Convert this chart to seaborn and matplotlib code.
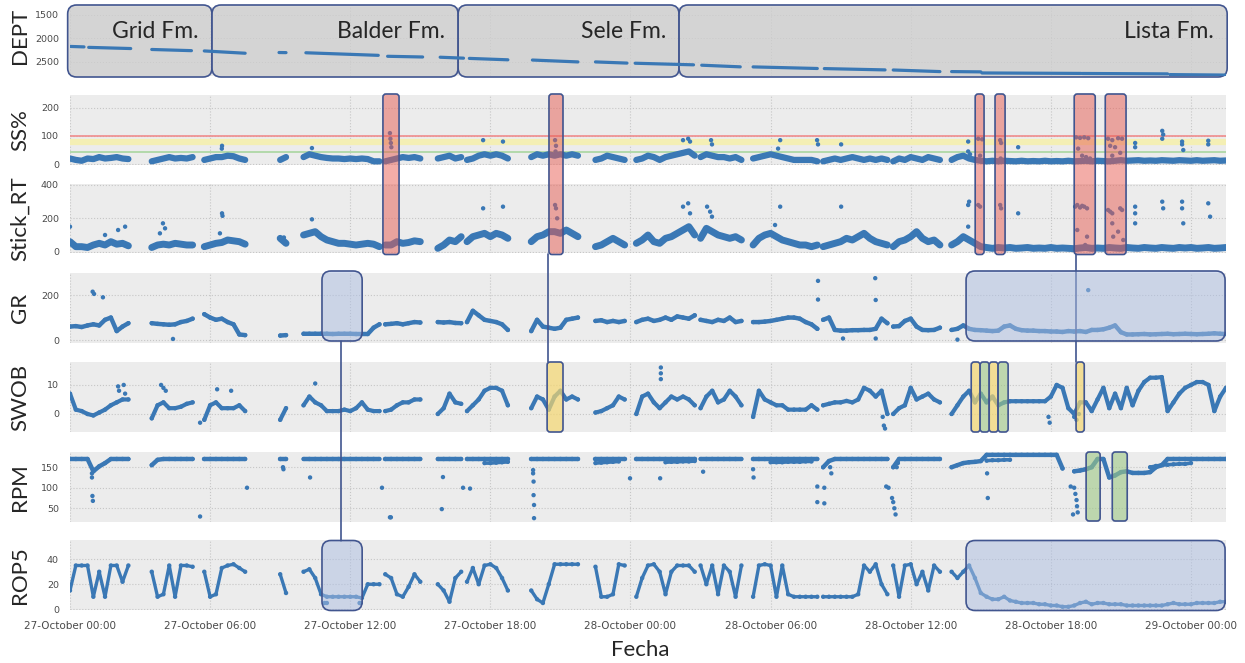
import pandas as pd
import matplotlib
matplotlib.use("Agg")
import matplotlib.pyplot as plt
from matplotlib.patches import FancyBboxPatch
from matplotlib.lines import Line2D
from matplotlib.colors import to_rgba
import seaborn as sns

# ---------------------------------------------------------------- data
BASE = pd.Timestamp("2019-10-27 00:00")
STEP = 0.25  # hours between logged samples inside a drilling run

# start hour of each continuous logging run
seg_start = [0.0, 3.5, 5.75, 9.0, 10.0, 13.5, 15.75, 17.0, 19.75, 22.5,
             24.25, 27.0, 29.25, 32.25, 35.25, 37.75]

# bit depth runs: (start hour, end hour, depth at start, depth at end)
dept_runs = [(0.0, 0.6, 2170, 2180), (0.8, 2.6, 2190, 2215), (3.5, 5.2, 2235, 2260),
             (5.75, 7.5, 2266, 2315), (8.95, 9.25, 2300, 2302), (10.1, 13.2, 2305, 2360),
             (13.6, 15.1, 2380, 2395), (15.85, 16.85, 2400, 2420), (17.1, 18.75, 2425, 2455),
             (19.8, 21.75, 2460, 2500), (22.5, 23.85, 2500, 2525), (24.2, 26.7, 2528, 2562),
             (27.05, 28.7, 2570, 2605), (29.25, 32.0, 2606, 2640), (32.3, 34.9, 2642, 2670),
             (35.25, 37.25, 2672, 2706), (37.75, 39.0, 2706, 2712), (39.05, 43.3, 2735, 2745),
             (43.35, 47.0, 2746, 2755), (47.1, 49.5, 2770, 2780)]

ss_pct = [
    [20, 15, 12, 20, 18, 25, 20, 22, 25, 20, 18],
    [10, 15, 20, 25, 20, 22, 20, 25],
    [15, 20, 25, 25, 30, 28, 20, 15],
    [15, 25],
    [25, 35, 30, 25, 22, 20, 20, 18, 20, 18, 20, 18, 10, 10],
    [10, 15, 20, 25, 22, 25, 20],
    [20, 25, 30, 20, 25],
    [15, 20, 30, 35, 30, 35, 30, 20],
    [25, 35, 30, 35, 30, 35, 30, 35, 30],
    [15, 20, 30, 25, 20, 15],
    [15, 20, 30, 25, 15, 25, 30, 35, 40, 45, 30],
    [25, 35, 30, 25, 25, 20, 25, 15],
    [20, 25, 30, 35, 30, 25, 20, 15, 15, 15, 15, 10],
    [10, 15, 20, 15, 20, 25, 20, 15, 20, 15, 20, 15],
    [10, 20, 15, 25, 20, 15, 25, 20, 15],
    [15, 25, 30, 20, 15, 12, 10, 12, 10, 12, 11, 10, 12, 10, 11, 10, 12, 10, 11, 10,
     12, 10, 11, 12, 10, 12, 11, 10, 12, 14, 12, 13, 14, 12, 13, 12, 14, 13, 12, 14,
     13, 12, 14, 12, 13, 14, 12, 13],
]
ss_spike_h = [6.51, 6.5, 10.36, 13.70, 13.72, 13.74, 13.76, 17.69, 18.54, 20.77, 20.81,
              20.79, 26.25, 26.47, 26.55, 27.45, 27.49, 30.32, 30.41, 31.99, 32.03, 33.02,
              38.46, 38.46, 38.54, 38.89, 39.06, 38.97, 39.83, 39.87, 39.85, 40.6, 43.08,
              43.25, 43.43, 43.6, 43.17, 43.34, 43.51, 43.68, 44.45, 44.63, 44.88, 45.05,
              44.54, 44.75, 44.97, 44.63, 45.61, 45.61, 46.77, 46.81, 46.77, 47.62, 47.62,
              47.67, 48.74, 48.74]
ss_spike_v = [65, 55, 57, 110, 90, 75, 60, 85, 80, 85, 65,
              45, 85, 90, 80, 85, 70, 55, 85, 85, 70, 70,
              80, 45, 35, 90, 88, 30, 85, 75, 20, 60, 95,
              93, 95, 92, 55, 30, 25, 20, 90, 85, 92, 90,
              65, 60, 40, 30, 75, 60, 118, 105, 90, 70, 80,
              50, 83, 70]

stick_rt = [
    [60, 30, 30, 25, 40, 50, 40, 60, 45, 50, 35],
    [25, 40, 45, 40, 50, 45, 40, 40],
    [30, 40, 50, 55, 70, 65, 60, 45],
    [80, 50],
    [100, 110, 120, 90, 70, 60, 50, 50, 45, 40, 45, 50, 45, 30],
    [40, 40, 60, 50, 55, 65, 60],
    [20, 40, 70, 60, 90],
    [60, 90, 100, 110, 90, 110, 100, 80],
    [60, 90, 100, 120, 120, 110, 130, 110, 90],
    [30, 40, 60, 80, 60, 40],
    [50, 70, 100, 60, 50, 80, 90, 110, 130, 150, 100],
    [80, 140, 120, 100, 90, 80, 90, 70],
    [40, 80, 100, 110, 90, 70, 60, 50, 40, 40, 30, 40],
    [30, 40, 50, 60, 80, 70, 90, 110, 80, 60, 50, 40],
    [30, 60, 70, 90, 120, 80, 60, 70, 40],
    [40, 60, 90, 70, 50, 30, 25, 20, 25, 22, 25, 20, 22, 25, 20, 22, 20, 25, 20, 22,
     20, 18, 22, 25, 20, 22, 20, 25, 22, 20, 25, 22, 20, 25, 22, 20, 25, 22, 20, 25,
     22, 25, 20, 22, 25, 20, 22, 25],
]
stick_spike_h = [0.0, 2.06, 2.36, 1.5, 3.85, 3.98, 4.07, 6.42, 6.51, 6.53, 9.16, 9.2,
                 10.36, 17.69, 18.54, 20.77, 20.81, 20.86, 26.25, 26.47, 26.55, 27.28,
                 27.41, 27.49, 30.19, 30.41, 33.02, 38.46, 38.5, 38.46, 38.89, 38.97,
                 39.83, 39.87, 40.6, 43.04, 43.13, 43.25, 43.34, 43.43, 43.55, 43.13,
                 43.55, 43.47, 43.6, 44.45, 44.54, 44.63, 44.97, 45.05, 44.63, 44.67,
                 44.88, 45.1, 45.61, 45.61, 45.61, 46.77, 46.81, 47.62, 47.62, 47.67,
                 48.74, 48.82]
stick_spike_v = [150, 130, 150, 100, 110, 170, 140, 110, 230, 215, 85, 60,
                 194, 260, 270, 280, 260, 200, 270, 290, 230, 270,
                 240, 210, 160, 270, 270, 280, 300, 150, 280, 270,
                 280, 260, 230, 270, 280, 265, 275, 270, 260, 130,
                 90, 40, 20, 250, 240, 230, 260, 250, 170, 90,
                 120, 70, 270, 230, 170, 300, 260, 300, 260, 170,
                 290, 210]

gr_api = [
    [60, 62, 58, 65, 70, 65, 90, 100, 40, 60, 75],
    [75, 72, 70, 68, 70, 80, 85, 95],
    [115, 100, 90, 95, 80, 70, 25, 22],
    [20, 22],
    [28, 28, 28, 28, 28, 27, 28, 28, 28, 27, 27, 27, 55, 70],
    [70, 72, 75, 70, 75, 80, 78],
    [80, 78, 80, 76, 75],
    [80, 130, 110, 90, 85, 80, 70, 45],
    [40, 90, 60, 55, 50, 55, 90, 95, 100],
    [85, 88, 80, 85, 80, 85],
    [80, 90, 95, 85, 90, 100, 90, 105, 100, 95, 110],
    [90, 85, 80, 90, 85, 100, 80, 85],
    [80, 80, 82, 85, 90, 95, 100, 100, 95, 80, 70, 50],
    [90, 100, 45, 42, 42, 44, 44, 45, 45, 50, 95, 75],
    [60, 62, 85, 95, 60, 45, 44, 45, 55],
    [45, 50, 65, 50, 45, 44, 42, 40, 42, 60, 65, 50, 44, 42, 42, 40, 40, 38, 38, 36,
     40, 38, 40, 36, 45, 45, 48, 55, 65, 35, 25, 25, 26, 27, 25, 26, 27, 28, 26, 27,
     28, 27, 26, 27, 28, 30, 28, 27],
]
gr_spike_h = [0.97, 1.03, 1.41, 4.41, 32.03, 32.03, 34.48, 34.5, 43.6, 33.1, 34.5, 38.0]
gr_spike_v = [215, 205, 190, 5, 263, 180, 275, 178, 222, 7, 7, 2]

swob = [
    [7, 1.5, 1, 0, -0.5, 0.5, 1.5, 3, 4, 5, 5],
    [-1.5, 3, 4, 2, 2, 2.5, 3.5, 4],
    [-2, 3, 4, 2, 2, 2, 3, 1],
    [-2, 2],
    [3, 6, 4, 3, 1, 1, 1, 1.5, 1, 2, 4, 1.5, 1, 1],
    [1, 1.5, 3, 4, 4, 5, 5],
    [0, 2, 7, 4, 3.5],
    [1, 3, 5, 8, 9, 9, 8, 3],
    [2, 6, 5, 1.5, 6, 8, 5, 6, 5],
    [0.5, 1, 2, 3, 6, 5],
    [0, 6, 7, 4, 2, 4, 6, 5, 6, 5, 3],
    [2, 6, 8, 4, 5, 8, 6, 3],
    [-1, 8, 5, 4, 3, 3, 1.5, 1.5, 1.5, 1.5, 3, 1.5],
    [3, 3.5, 4, 4, 4.5, 4, 5, 9, 8, 6, 8, 0],
    [0, 2, 3, 9, 5, 6, 7, 5, 4],
    [0, 3, 6, 8, 4, 7, 4, 6, 3, 4, 4.4, 4.4, 4.4, 4.4, 4.4, 4.4, 4.4, 6, 10, 9,
     2, 0, 4, 4, 1, 5, 9, 2, 7, 2, 9, 3, 8, 11, 12.5, 12.5, 12.7, 1, 4, 7,
     9, 10, 11, 11, 10, 1, 6, 9],
]
swob_spike_h = [2.06, 2.1, 2.3, 2.36, 3.9, 4.0, 4.1, 5.57, 6.3, 6.9, 10.5, 25.3, 25.3,
                25.3, 34.8, 34.85, 34.9, 41.9, 41.95, 43.0, 43.1, 43.2]
swob_spike_v = [9.5, 8, 10, 7, 10, 9, 8, -3, 8.5, 8, 10.5, 16, 14,
                12, -1, -4, -5, -1, -3, -1, -2, 0]

rpm = [
    [170, 170, 170, 170, 140, 152, 160, 170, 170, 170, 170],
    [155, 168, 170, 170, 170, 170, 170, 170],
    [170, 170, 170, 170, 170, 170, 170, 170],
    [170, 170],
    [170, 170, 170, 170, 170, 170, 170, 170, 170, 170, 170, 170, 170, 170],
    [170, 170, 170, 170, 170, 170, 170],
    [170, 170, 170, 170, 170],
    [170, 170, 170, 170, 170, 170, 170, 170],
    [170, 170, 170, 170, 170, 170, 170, 170, 170],
    [170, 170, 170, 170, 170, 170],
    [170, 170, 170, 170, 170, 170, 170, 170, 170, 170, 170],
    [170, 170, 170, 170, 170, 170, 170, 170],
    [170, 170, 170, 170, 170, 170, 170, 170, 170, 170, 170, 170],
    [150, 165, 170, 170, 170, 170, 170, 170, 170, 170, 170, 170],
    [150, 170, 170, 170, 170, 170, 170, 170, 170],
    [150, 155, 160, 162, 163, 165, 180, 180, 180, 180, 180, 180, 180, 180, 180, 180,
     180, 180, 180, 147, None, 140, 142, 145, 150, 170, 170, 125, 130, 138, 140, 136,
     136, 136, 138, 150, 155, 170, 170, 170, 170, 170, 170, 170, 170, 170, 170, 170],
]
# second rotary-speed level logged alongside the main one
rpm_alt_start = [17.75, 22.5, 25.5, 30.0, 39.25, 46.25]
rpm_alt = [
    [160, 160, 161, 162, 163],
    [160, 161, 162, 163, 164],
    [162, 163, 163, 164, 164, 165],
    [162, 162, 162, 163, 163, 163, 164, 164],
    [166, 167, 167, 168, 168],
    [150, 153, 155, 156, 157, 158, 158, 160],
]
rpm_spike_h = [0.94, 0.94, 0.96, 0.98, 5.57, 7.58, 9.12, 9.14, 10.28, 13.36, 13.70, 13.74,
               15.92, 15.97, 16.83, 17.13, 19.83, 19.83, 19.85, 19.85, 19.87, 19.87,
               23.98, 25.27, 27.11, 29.25, 29.27, 32.0, 32.3, 32.0, 32.3, 32.55, 32.6,
               34.95, 35.05, 35.2, 35.25, 35.3, 35.35, 35.4, 35.45, 39.27, 39.3,
               42.85, 43.0, 43.05, 43.1, 43.12, 43.15, 42.95]
rpm_spike_v = [135, 125, 80, 68, 30, 100, 150, 145, 125, 100, 28, 28,
               48, 126, 100, 98, 143, 135, 115, 82, 58, 26,
               123, 123, 139, 145, 125, 103, 100, 65, 62, 150, 135,
               103, 100, 75, 65, 50, 35, 150, 160, 135, 75,
               103, 100, 85, 70, 55, 40, 35]

rop5 = [
    [15, 35, 35, 35, 10, 30, 10, 35, 35, 22, 35],
    [30, 10, 12, 35, 10, 35, 35, 34],
    [30, 10, 12, 33, 35, 36, 33, 30],
    [28, 13],
    [30, 32, 25, 12, 10, 10, 10, 10, 10, 10, 9, 20, 20, 20],
    [28, 25, 12, 10, 18, 28, 22],
    [20, 15, 6, 25, 30],
    [22, 33, 20, 35, 36, 33, 25, 15],
    [15, 8, 5, 20, 36, 36, 36, 36, 36],
    [34, 10, 10, 12, 36, 35],
    [10, 25, 35, 36, 30, 12, 30, 35, 35, 35, 30],
    [35, 20, 35, 12, 35, 30, 10, 35],
    [10, 35, 36, 35, 10, 35, 12, 10, 10, 10, 10, 10],
    [10, 10, 10, 10, 10, 10, 12, 35, 30, 36, 20, 12],
    [35, 10, 35, 36, 20, 30, 15, 35, 30],
    [30, 25, 30, 35, 25, 13, 10, 8, 8, 10, 7, 6, 5, 5, 5, 4, 4, 3, 3, 2,
     2, 3, 5, 6, 4, 5, 5, 4, 4, 4, 3, 3, 3, 3, 3, 3, 3, 4, 5, 4,
     4, 4, 5, 5, 5, 5, 6, 6],
]
rop5_spike_h = [10.9, 11.0, 12.4, 12.45]
rop5_spike_v = [5, 5, 5, 5]

formation_names = ["Grid Fm.", "Balder Fm.", "Sele Fm.", "Lista Fm."]
formation_bounds_h = [-0.1, 6.08, 16.62, 26.08, 49.55]

# highlighted time windows (hours)
stick_windows = [(13.40, 14.09), (20.51, 21.11), (38.76, 39.14), (39.61, 40.04),
                 (43.0, 43.9), (44.33, 45.22)]
gr_rop_windows = [(10.79, 12.51), (38.37, 49.46)]
swob_windows = [(20.43, 21.11, "y"), (38.59, 38.97, "y"), (38.97, 39.36, "g"),
                (39.36, 39.74, "y"), (39.74, 40.17, "g"), (43.08, 43.43, "y")]
rpm_windows = [(43.51, 44.11), (44.63, 45.27)]
links_h = [11.61, 20.47, 43.08]

tick_hours = [0, 6, 12, 18, 24, 30, 36, 42, 48]

# ---------------------------------------------------------------- style
sns.set_theme(style="darkgrid", rc={
    "axes.facecolor": "#ececec",
    "grid.color": "#c6c6c6",
    "grid.linestyle": ":",
    "grid.linewidth": 0.8,
    "xtick.color": "#4a4a4a",
    "ytick.color": "#4a4a4a",
})
plt.rcParams["font.family"] = ["DejaVu Sans"]

BLUE = "#3a78b5"
EDGE = "#41558f"
LABEL_FONT = "Lato"
LABEL_SIZE = 16

W, H = 1245, 663
fig = plt.figure(figsize=(W / 100, H / 100), dpi=100)
fig.patch.set_facecolor("white")

LEFT, RIGHT = 70, 1226
XMIN, XMAX = 0.0, 49.5


def hx(h):
    return LEFT + (h - XMIN) / (XMAX - XMIN) * (RIGHT - LEFT)


rows_px = {"DEPT": (7, 76), "SS%": (95, 165), "Stick_RT": (184, 253), "GR": (273, 343),
           "SWOB": (362, 432), "RPM": (452, 522), "ROP5": (540, 610)}


def make_axes(name):
    top, bot = rows_px[name]
    return fig.add_axes([LEFT / W, 1 - bot / H, (RIGHT - LEFT) / W, (bot - top) / H])


def run_frame(starts, segs):
    rows = []
    run = 0
    for start, vals in zip(starts, segs):
        for i, v in enumerate(vals):
            if v is None:
                run += 1
                continue
            rows.append((start + STEP * i, v, run))
        run += 1
    return pd.DataFrame(rows, columns=["hour", "value", "run"])


def draw_runs(ax, df, lw, size=10):
    sns.lineplot(data=df, x="hour", y="value", units="run", estimator=None, sort=False,
                 color=BLUE, lw=lw, ax=ax, legend=False, zorder=3)
    sns.scatterplot(data=df, x="hour", y="value", color=BLUE, s=size, edgecolor="none",
                    linewidth=0, ax=ax, legend=False, zorder=3)


def finish(ax, name, ylim, yticks, bottom=False, label_y=0.5):
    ax.set_xlim(XMIN, XMAX)
    ax.set_ylim(*ylim)
    ax.set_yticks(yticks)
    ax.set_yticklabels([str(t) for t in yticks])
    ax.set_xticks(tick_hours)
    if bottom:
        ax.set_xticklabels([(BASE + pd.Timedelta(hours=h)).strftime("%d-%B %H:%M")
                            for h in tick_hours])
        ax.set_xlabel("Fecha", fontsize=LABEL_SIZE, family=LABEL_FONT, va="center")
        ax.xaxis.set_label_coords((640 - LEFT) / (RIGHT - LEFT), -(650 - 610) / 70)
    else:
        ax.set_xticklabels([])
        ax.set_xlabel("")
    ax.tick_params(axis="x", length=0, pad=8, labelsize=7.5)
    ax.tick_params(axis="y", length=0, pad=8, labelsize=6.8)
    ax.set_ylabel(name, fontsize=LABEL_SIZE, family=LABEL_FONT, va="center")
    ax.yaxis.set_label_coords((20 - LEFT) / (RIGHT - LEFT), label_y)
    for s in ax.spines.values():
        s.set_visible(False)


def rbox(x0, x1, y0, y1, fc, alpha, r, lw=1.2, zorder=5, target=None):
    patch = FancyBboxPatch((x0 / 100, (H - y1) / 100), (x1 - x0) / 100, (y1 - y0) / 100,
                           boxstyle=f"round,pad=0,rounding_size={r / 100}",
                           transform=fig.dpi_scale_trans, facecolor=to_rgba(fc, alpha),
                           edgecolor=EDGE, linewidth=lw, zorder=zorder, clip_on=False)
    (target or fig).add_artist(patch)


# ---------------------------------------------------------------- DEPT
ax = make_axes("DEPT")
dept_rows = []
for k, (h0, h1, d0, d1) in enumerate(dept_runs):
    dept_rows += [(h0, d0, k), (h1, d1, k)]
dept_df = pd.DataFrame(dept_rows, columns=["hour", "value", "run"])
sns.lineplot(data=dept_df, x="hour", y="value", units="run", estimator=None, sort=False,
             color=BLUE, lw=2.3, ax=ax, legend=False, zorder=3)
finish(ax, "DEPT", (2800, 1330), [1500, 2000, 2500], label_y=0.58)
for name, h0, h1 in zip(formation_names, formation_bounds_h[:-1], formation_bounds_h[1:]):
    rbox(hx(h0), hx(h1), 5, 77, "#cdcdcd", 0.75, 9, zorder=1, target=ax)
for name, h0, h1 in zip(formation_names, formation_bounds_h[:-1], formation_bounds_h[1:]):
    if name == "Grid Fm.":
        ax.text(112 / W, 1 - 32 / H, name, transform=fig.transFigure, ha="left",
                va="center", fontsize=16.5, family=LABEL_FONT, zorder=4)
    else:
        ax.text((hx(h1) - 13) / W, 1 - 32 / H, name, transform=fig.transFigure, ha="right",
                va="center", fontsize=16.5, family=LABEL_FONT, zorder=4)

# ---------------------------------------------------------------- SS%
ax = make_axes("SS%")
ax.axhline(100, color="#f08c8c", lw=1.2, zorder=1.5)
ax.axhline(80, color="#f4efb4", lw=4.5, zorder=1.5)
ax.axhline(42, color="#a9d6a0", lw=1.2, zorder=1.5)
draw_runs(ax, run_frame(seg_start, ss_pct), 4.5, 12)
sns.scatterplot(x=ss_spike_h, y=ss_spike_v, color=BLUE, s=10, edgecolor="none", ax=ax, zorder=3)
finish(ax, "SS%", (-3, 245), [0, 100, 200])

# ---------------------------------------------------------------- Stick_RT
ax = make_axes("Stick_RT")
draw_runs(ax, run_frame(seg_start, stick_rt), 5.0, 12)
sns.scatterplot(x=stick_spike_h, y=stick_spike_v, color=BLUE, s=10, edgecolor="none", ax=ax, zorder=3)
finish(ax, "Stick_RT", (-8, 406), [0, 200, 400])

# ---------------------------------------------------------------- GR
ax = make_axes("GR")
draw_runs(ax, run_frame(seg_start, gr_api), 3.2)
sns.scatterplot(x=gr_spike_h, y=gr_spike_v, color=BLUE, s=10, edgecolor="none", ax=ax, zorder=3)
finish(ax, "GR", (-13, 298), [0, 200])

# ---------------------------------------------------------------- SWOB
ax = make_axes("SWOB")
draw_runs(ax, run_frame(seg_start, swob), 3.0)
sns.scatterplot(x=swob_spike_h, y=swob_spike_v, color=BLUE, s=10, edgecolor="none", ax=ax, zorder=3)
finish(ax, "SWOB", (-6.2, 17.9), [0, 10])

# ---------------------------------------------------------------- RPM
ax = make_axes("RPM")
draw_runs(ax, run_frame(seg_start, rpm), 3.2)
draw_runs(ax, run_frame(rpm_alt_start, rpm_alt), 2.6)
sns.scatterplot(x=rpm_spike_h, y=rpm_spike_v, color=BLUE, s=10, edgecolor="none", ax=ax, zorder=3)
finish(ax, "RPM", (16.6, 187), [50, 100, 150])

# ---------------------------------------------------------------- ROP5
ax = make_axes("ROP5")
draw_runs(ax, run_frame(seg_start, rop5), 2.4)
sns.scatterplot(x=rop5_spike_h, y=rop5_spike_v, color=BLUE, s=10, edgecolor="none", ax=ax, zorder=3)
finish(ax, "ROP5", (-0.6, 55.4), [0, 20, 40], bottom=True)

# ---------------------------------------------------------------- highlights
for x in links_h[:1]:
    fig.add_artist(Line2D([hx(x) / W] * 2, [1 - 341 / H, 1 - 541 / H],
                          transform=fig.transFigure, color=EDGE, lw=1.2, zorder=4))
for x in links_h[1:]:
    fig.add_artist(Line2D([hx(x) / W] * 2, [1 - 254 / H, 1 - 362 / H],
                          transform=fig.transFigure, color=EDGE, lw=1.2, zorder=4))

for h0, h1 in stick_windows:
    rbox(hx(h0), hx(h1), 94, 254.5, "#e85c52", 0.5, 3)
for h0, h1 in gr_rop_windows:
    rbox(hx(h0), hx(h1), 271, 341, "#acbee2", 0.5, 9)
    rbox(hx(h0), hx(h1), 540.5, 610.5, "#acbee2", 0.5, 9)
for h0, h1, kind in swob_windows:
    fc, a = ("#f5d770", 0.7) if kind == "y" else ("#9ec885", 0.6)
    rbox(hx(h0), hx(h1), 362, 432, fc, a, 3)
for h0, h1 in rpm_windows:
    rbox(hx(h0), hx(h1), 452, 521, "#9ec885", 0.6, 3)

fig.savefig("out.png", dpi=100)
